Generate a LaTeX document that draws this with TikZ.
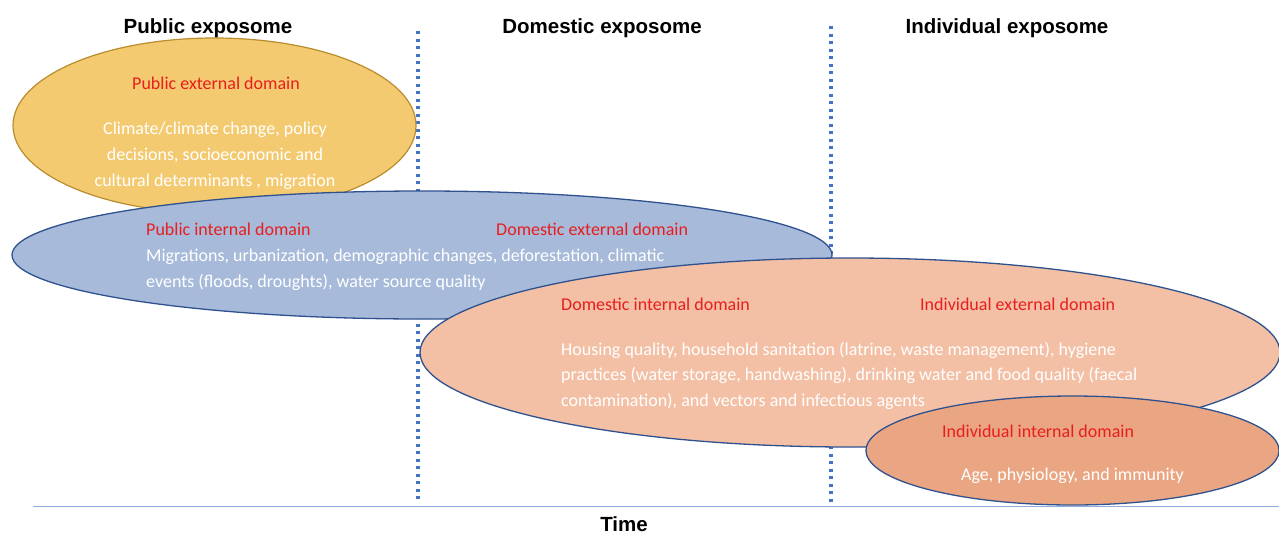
\documentclass[tikz,border=0pt]{standalone}
\usepackage{fontspec}
\setmainfont{Carlito}
\newfontfamily\headfont{Liberation Sans}
\definecolor{yellowfill}{RGB}{244,202,112}
\definecolor{yellowline}{RGB}{185,140,45}
\definecolor{bluefill}{RGB}{167,186,218}
\definecolor{blueline}{RGB}{47,82,143}
\definecolor{salmonfill}{RGB}{243,192,165}
\definecolor{darksalmon}{RGB}{234,166,130}
\definecolor{domred}{RGB}{232,30,30}
\definecolor{dotblue}{RGB}{68,114,196}
\definecolor{axisblue}{RGB}{143,170,220}
\begin{document}
\begin{tikzpicture}[x=1pt,y=-1pt,
 heading/.style={font=\headfont\bfseries\fontsize{20.5}{24}\selectfont, anchor=base, inner sep=0},
 domlabel/.style={font=\fontsize{18}{21}\selectfont, text=domred, anchor=base west, inner sep=0},
 bodytext/.style={font=\fontsize{18}{21}\selectfont, text=white, anchor=base west, inner sep=0},
 sepline/.style={dotblue, line width=3.3pt, dash pattern=on 3.3pt off 4.2pt},
 blob/.style={draw=blueline, line width=1.3pt}
]
\useasboundingbox (0,0) rectangle (1279,533);
% separators and axis
\coordinate (s1t) at (418,31);
\coordinate (s1b) at (418,501);
\coordinate (s2t) at (831,26);
\coordinate (s2b) at (831,502);
\coordinate (axl) at (33,506.5);
\coordinate (axr) at (1279,506.5);
\draw[sepline] (s1t) -- (s1b);
\draw[sepline] (s2t) -- (s2b);
\draw[axisblue, line width=1pt] (axl) -- (axr);
% ellipses
\filldraw[fill=yellowfill, draw=yellowline, line width=1.2pt] (214.5,125.5) ellipse [x radius=201.5pt, y radius=87.5pt];
\filldraw[blob, fill=bluefill] (422,255) ellipse [x radius=410pt, y radius=64pt];
\filldraw[blob, fill=salmonfill] (850,352.5) ellipse [x radius=430pt, y radius=94.5pt];
\filldraw[blob, fill=darksalmon] (1072.5,450.5) ellipse [x radius=206.5pt, y radius=54.5pt];
% headings
\node[heading] (h1) at (208,33) {Public exposome};
\node[heading] (h2) at (602,33) {Domestic exposome};
\node[heading] (h3) at (1007,33) {Individual exposome};
\node[heading] (time) at (624,531) {Time};
% public external
\node[domlabel, anchor=base] (pe) at (216,89) {Public external domain};
\node[bodytext, anchor=base] (pe1) at (215,134) {Climate/climate change, policy};
\node[bodytext, anchor=base] (pe2) at (215,160) {decisions, socioeconomic and};
\node[bodytext, anchor=base] (pe3) at (215,186) {cultural determinants , migration};
% public internal / domestic external
\node[domlabel] (pi) at (146,235) {Public internal domain};
\node[domlabel] (de) at (496,235) {Domestic external domain};
\node[bodytext] (pi1) at (146,261) {Migrations, urbanization, demographic changes, deforestation, climatic};
\node[bodytext] (pi2) at (146,287) {events (floods, droughts), water source quality};
% domestic internal / individual external
\node[domlabel] (di) at (561,310) {Domestic internal domain};
\node[domlabel] (ie) at (920,310) {Individual external domain};
\node[bodytext] (di1) at (561,355) {Housing quality, household sanitation (latrine, waste management), hygiene};
\node[bodytext] (di2) at (561,380) {practices (water storage, handwashing), drinking water and food quality (faecal};
\node[bodytext] (di3) at (561,406) {contamination), and vectors and infectious agents};
% individual internal
\node[domlabel] (ii) at (942,437) {Individual internal domain};
\node[bodytext] (ii1) at (961,480) {Age, physiology, and immunity};
\end{tikzpicture}
\end{document}
